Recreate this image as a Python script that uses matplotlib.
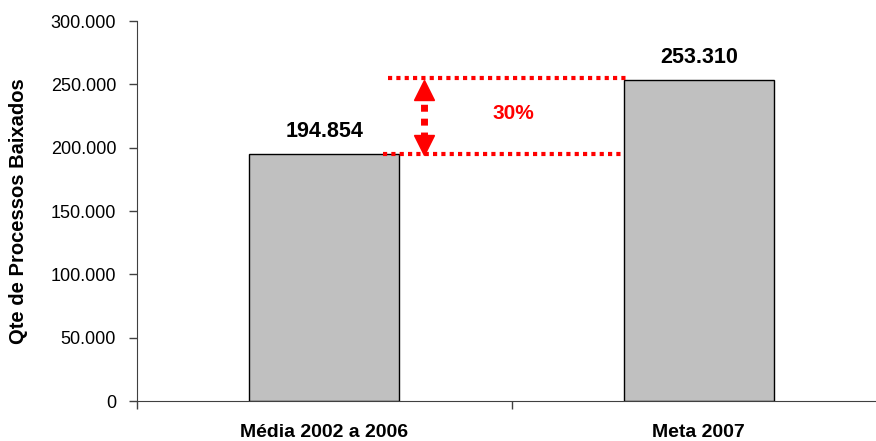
import matplotlib.pyplot as plt
from matplotlib.ticker import FuncFormatter

categorias = ["Média 2002 a 2006", "Meta 2007"]
valores = [194854, 253310]
ticks_y = [0, 50000, 100000, 150000, 200000, 250000, 300000]
texto_pct = "30%"


def fmt(v, pos=None):
    return f"{int(v):,}".replace(",", ".")


plt.rcParams['font.family'] = ['Liberation Sans', 'DejaVu Sans']

fig = plt.figure(figsize=(8.76, 4.41), dpi=100)
ax = fig.add_axes([137 / 876, 40 / 441, 749 / 876, 380 / 441])

x = list(range(len(categorias)))
ax.bar(x, valores, width=0.4, color='#C0C0C0', edgecolor='black', linewidth=1)

ax.set_xlim(-0.5, 1.5)
ax.set_ylim(0, 300000)
ax.set_yticks(ticks_y)
ax.yaxis.set_major_formatter(FuncFormatter(fmt))
ax.set_xticks([-0.5, 0.5, 1.5])
ax.set_xticklabels([])
ax.tick_params(axis='both', direction='out', length=6, width=1, color='#404040')
ax.tick_params(axis='y', labelsize=13, pad=9)

for s in ['top', 'right']:
    ax.spines[s].set_visible(False)
ax.spines['left'].set_color('#404040')
ax.spines['bottom'].set_color('#404040')

ax.set_ylabel("Qte de Processos Baixados", fontsize=14.5, fontweight='bold')
ax.yaxis.set_label_coords(-0.146, 0.5)

# rotulos das categorias
for i, c in enumerate(categorias):
    ax.annotate(c, xy=(i, 0), xytext=(0, -22.5), textcoords='offset points',
                ha='center', va='center', fontsize=14, fontweight='bold',
                annotation_clip=False)

# valores sobre as barras
for i, v in enumerate(valores):
    ax.annotate(fmt(v), xy=(i, v), xytext=(0, 16), textcoords='offset points',
                ha='center', va='center', fontsize=15.5, fontweight='bold')

# linhas pontilhadas vermelhas
lo, hi = valores
ax.plot([0.157, 0.795], [lo, lo], color='red', lw=3, linestyle=(0, (1, 1)),
        dash_capstyle='butt')
ax.plot([0.170, 0.808], [hi + 1500, hi + 1500], color='red', lw=3,
        linestyle=(0, (1, 1)), dash_capstyle='butt')

# seta dupla
xa = 0.266
d = 7500
ax.plot([xa, xa], [lo + 1.6 * d, hi - 1.6 * d], color='red', lw=5,
        linestyle=(0, (1, 1)), dash_capstyle='butt')
ax.plot([xa], [hi - d], marker='^', color='red', markersize=14)
ax.plot([xa], [lo + d], marker='v', color='red', markersize=14)

ax.text(0.504, (lo + hi) / 2 + 3000, texto_pct, color='red', fontsize=15,
        fontweight='bold', ha='center', va='center')

fig.savefig("out.png", dpi=100)
